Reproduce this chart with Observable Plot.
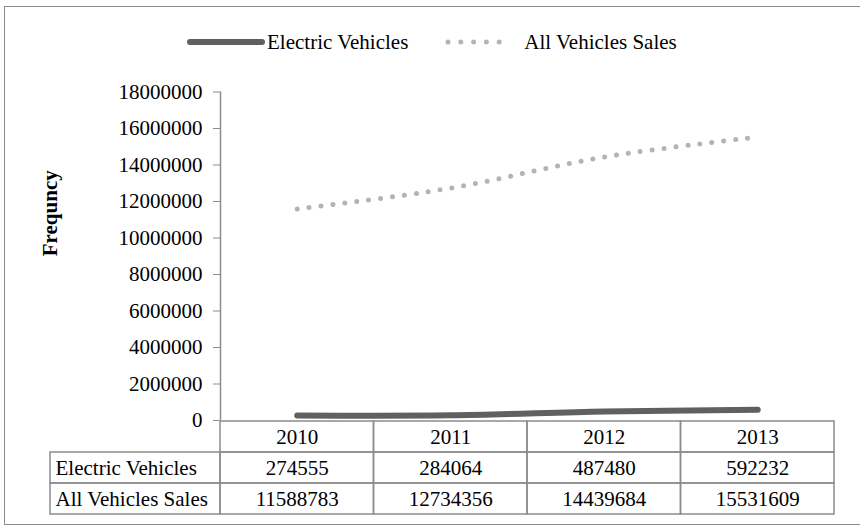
<!DOCTYPE html>
<html>
<head>
<meta charset="utf-8">
<script src="https://cdn.jsdelivr.net/npm/d3@7"></script>
<script src="https://cdn.jsdelivr.net/npm/@observablehq/plot@0.6"></script>
<style>
  html, body { margin: 0; padding: 0; background: #fff; overflow: hidden; }
  #wrap { position: relative; width: 860px; height: 527px; overflow: hidden; font-family: 'Times New Roman', 'Liberation Serif', serif; color: #000; }
  #border { position: absolute; left: 4px; top: 6px; width: 1000px; height: 519px; border: 1.5px solid #8c8c8c; border-right: none; box-sizing: border-box; }
  #legend { position: absolute; left: 187px; top: 28px; height: 28px; display: flex; align-items: center; font-size: 21px; white-space: nowrap; }
  #chart, #table { position: absolute; left: 0; }
  #chart { top: 0; }
  #table { top: 419px; }
</style>
</head>
<body>
<div id="wrap">
  <div id="border"></div>
  <div id="legend"></div>
  <div id="chart"></div>
  <div id="table"></div>
</div>
<script>
// ---- data ----
const years = ["2010", "2011", "2012", "2013"];
const electricVehicles = [274555, 284064, 487480, 592232];
const allVehiclesSales = [11588783, 12734356, 14439684, 15531609];
const seriesNames = ["Electric Vehicles", "All Vehicles Sales"];
const yTicks = [0, 2000000, 4000000, 6000000, 8000000, 10000000, 12000000, 14000000, 16000000, 18000000];
const yLabel = "Frequncy";

// ---- styles ----
const evColor = "#606060";
const allColor = "#b3b3b3";
const gridColor = "#8c8c8c";
const font = "'Times New Roman', 'Liberation Serif', serif";

const evData = years.map((y, i) => ({year: y, col: i, value: electricVehicles[i]}));
const allData = years.map((y, i) => ({year: y, col: i, value: allVehiclesSales[i]}));

// ---- chart ----
const chart = Plot.plot({
  width: 860,
  height: 421,
  marginTop: 91.5,
  marginBottom: 1,
  marginLeft: 220,
  marginRight: 26,
  style: {fontFamily: font, fontSize: "21px", color: "#000", background: "transparent", overflow: "visible"},
  x: {type: "linear", domain: [0, years.length], axis: null},
  y: {domain: [0, 18000000], ticks: yTicks, tickFormat: d3.format("d"), tickSize: 7, tickPadding: 11, label: null},
  marks: [
    Plot.ruleX([0], {stroke: gridColor, strokeWidth: 1.5}),
    Plot.text([yLabel], {frameAnchor: "left", rotate: -90, dx: -170, text: d => d, fontWeight: "bold", fontSize: 21}),
    Plot.line(allData, {x: d => d.col + 0.5, y: "value", stroke: allColor, strokeWidth: 5, strokeDasharray: "0 12", strokeLinecap: "round", curve: "catmull-rom"}),
    Plot.line(evData, {x: d => d.col + 0.5, y: "value", stroke: evColor, strokeWidth: 6, strokeLinecap: "round", curve: "catmull-rom"})
  ]
});
chart.querySelectorAll("[aria-label='y-axis'] path, [aria-label='y-axis tick'] path").forEach(p => p.setAttribute("stroke", gridColor));
document.getElementById("chart").appendChild(chart);

// ---- data table ----
const labelW = 170 / 153.5; // label column width in column units
const rowKeys = ["Year", seriesNames[0], seriesNames[1]];
const yearCells = [];
rowKeys.forEach(r => years.forEach((y, i) => yearCells.push({row: r, col: i})));
const valueTexts = [];
years.forEach((y, i) => {
  valueTexts.push({row: "Year", col: i, text: y});
  valueTexts.push({row: seriesNames[0], col: i, text: String(electricVehicles[i])});
  valueTexts.push({row: seriesNames[1], col: i, text: String(allVehiclesSales[i])});
});
const table = Plot.plot({
  width: 860,
  height: 97,
  marginTop: 1,
  marginBottom: 2,
  marginLeft: 50,
  marginRight: 26,
  style: {fontFamily: font, fontSize: "21px", color: "#000", background: "transparent", overflow: "visible"},
  x: {type: "linear", domain: [-labelW, years.length], axis: null},
  y: {type: "band", domain: rowKeys, padding: 0, axis: null},
  marks: [
    Plot.barX(yearCells, {x1: d => d.col, x2: d => d.col + 1, y: "row", fill: "none", stroke: gridColor, strokeWidth: 1.5, inset: 0}),
    Plot.barX(seriesNames, {x1: -labelW, x2: 0, y: d => d, fill: "none", stroke: gridColor, strokeWidth: 1.5, inset: 0}),
    Plot.text(seriesNames, {x: -labelW, y: d => d, text: d => d, textAnchor: "start", dx: 5, fontSize: 21}),
    Plot.text(valueTexts, {x: d => d.col + 0.5, y: "row", text: "text", fontSize: 21})
  ]
});
document.getElementById("table").appendChild(table);

// ---- legend ----
const legend = document.getElementById("legend");
legend.innerHTML = `
  <svg width="78" height="12"><line x1="3" y1="6" x2="75" y2="6" stroke="${evColor}" stroke-width="6" stroke-linecap="round"/></svg>
  <span style="margin-left:2px">${seriesNames[0]}</span>
  <svg width="80" height="12" style="margin-left:30px"><line x1="10" y1="6" x2="74" y2="6" stroke="${allColor}" stroke-width="5" stroke-dasharray="0 12.8" stroke-linecap="round"/></svg>
  <span style="margin-left:6px">${seriesNames[1]}</span>`;
</script>
</body>
</html>
